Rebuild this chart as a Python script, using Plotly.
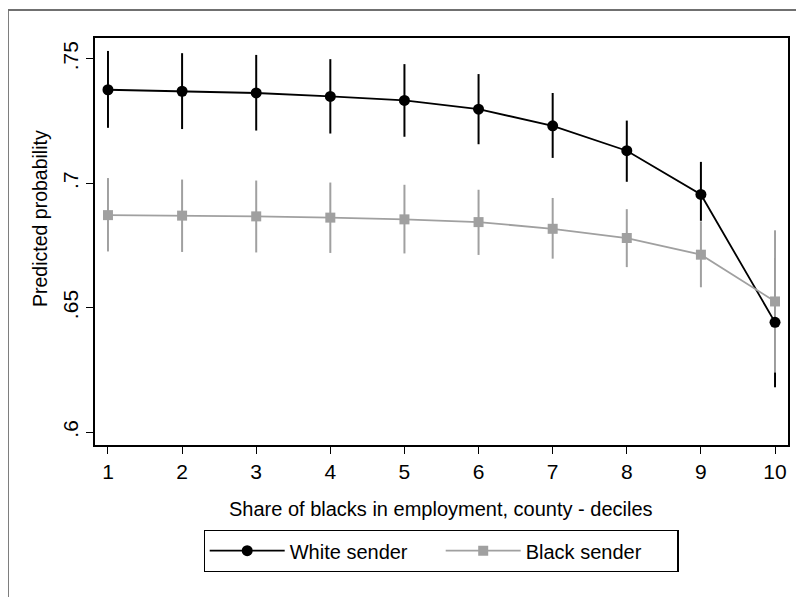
import plotly.graph_objects as go

deciles = [1, 2, 3, 4, 5, 6, 7, 8, 9, 10]

white_est = [0.7376, 0.7370, 0.7363, 0.7349, 0.7333, 0.7298, 0.7231, 0.7131, 0.6955, 0.6441]
white_lo = [0.7223, 0.7218, 0.7212, 0.7200, 0.7187, 0.7157, 0.7102, 0.7006, 0.6849, 0.6180]
white_hi = [0.7532, 0.7523, 0.7516, 0.7499, 0.7479, 0.7439, 0.7363, 0.7252, 0.7086, 0.6700]

black_est = [0.6872, 0.6870, 0.6867, 0.6862, 0.6855, 0.6844, 0.6817, 0.6780, 0.6713, 0.6525]
black_lo = [0.6726, 0.6724, 0.6722, 0.6720, 0.6718, 0.6712, 0.6697, 0.6663, 0.6582, 0.6239]
black_hi = [0.7021, 0.7015, 0.7011, 0.7003, 0.6994, 0.6974, 0.6941, 0.6896, 0.6847, 0.6811]

y_tickvals = [0.6, 0.65, 0.7, 0.75]
y_ticktext = [".6", ".65", ".7", ".75"]

series_names = ["White sender", "Black sender"]
x_title = "Share of blacks in employment, county - deciles"
y_title = "Predicted probability"

BLACK = "#000000"
GRAY = "#a0a0a0"
FONT = "Liberation Sans, Arial, Helvetica, sans-serif"

fig = go.Figure()

def ci_trace(est, lo, hi, color):
    return go.Scatter(
        x=deciles, y=est, mode="markers",
        marker=dict(size=1, opacity=0),
        error_y=dict(type="data", symmetric=False,
                     array=[h - e for h, e in zip(hi, est)],
                     arrayminus=[e - l for e, l in zip(est, lo)],
                     color=color, thickness=2, width=0),
        showlegend=False, hoverinfo="skip",
    )

fig.add_trace(ci_trace(white_est, white_lo, white_hi, BLACK))
fig.add_trace(ci_trace(black_est, black_lo, black_hi, GRAY))

fig.add_trace(go.Scatter(
    x=deciles, y=white_est, mode="lines+markers", name=series_names[0],
    line=dict(color=BLACK, width=1.8),
    marker=dict(symbol="circle", size=11, color=BLACK),
))
fig.add_trace(go.Scatter(
    x=deciles, y=black_est, mode="lines+markers", name=series_names[1],
    line=dict(color=GRAY, width=1.8),
    marker=dict(symbol="square", size=10, color=GRAY),
))

# page body has an 8px default margin; work in window pixels and offset
OFF = 8
W, H = 804 - OFF, 597 - OFF
L, T = 95 - OFF, 38 - OFF
R = 804 - 788
B = H - (445 - OFF)
pw, ph = W - L - R, H - T - B

def px(x):
    return (x - OFF - L) / pw

def py(y):
    return (H - B - (y - OFF)) / ph

fig.update_layout(
    width=W, height=H,
    margin=dict(l=L, r=R, t=T, b=B, autoexpand=False),
    paper_bgcolor="white", plot_bgcolor="white",
    font=dict(family=FONT, size=20, color="black"),
    showlegend=True,
    legend=dict(
        orientation="h", x=px(441), xanchor="center", y=py(530), yanchor="top",
        bordercolor="black", borderwidth=1.2, bgcolor="white",
        font=dict(size=20), itemwidth=75, tracegroupgap=0,
        entrywidth=146, entrywidthmode="pixels",
    ),
    xaxis=dict(
        range=[0.825, 10.175], tickvals=deciles, ticktext=[str(d) for d in deciles],
        ticks="outside", ticklen=7, tickwidth=1.3, tickcolor="black",
        showline=True, linecolor="black", linewidth=1.5, mirror=True,
        showgrid=False, zeroline=False, tickfont=dict(size=21),
    ),
    yaxis=dict(
        range=[0.5948, 0.7584], tickvals=y_tickvals, ticktext=y_ticktext,
        ticks="outside", ticklen=7, tickwidth=1.3, tickcolor="black",
        showline=True, linecolor="black", linewidth=1.5, mirror=True,
        showgrid=False, zeroline=False, tickangle=-90, tickfont=dict(size=21),
    ),
    annotations=[
        dict(text=x_title, xref="paper", yref="paper", x=px(441), y=py(509),
             xanchor="center", yanchor="middle", showarrow=False,
             font=dict(size=20)),
        dict(text=y_title, xref="paper", yref="paper", x=px(40), y=py(219),
             xanchor="center", yanchor="middle", showarrow=False, textangle=-90,
             font=dict(size=19.5)),
    ],
    shapes=[
        dict(type="line", xref="paper", yref="paper", x0=px(8), x1=px(820),
             y0=py(10), y1=py(10), line=dict(color="#707070", width=1.8)),
        dict(type="line", xref="paper", yref="paper", x0=px(8), x1=px(8),
             y0=py(10), y1=py(620), line=dict(color="#707070", width=1.8)),
    ],
)

fig.write_html("out.html")
